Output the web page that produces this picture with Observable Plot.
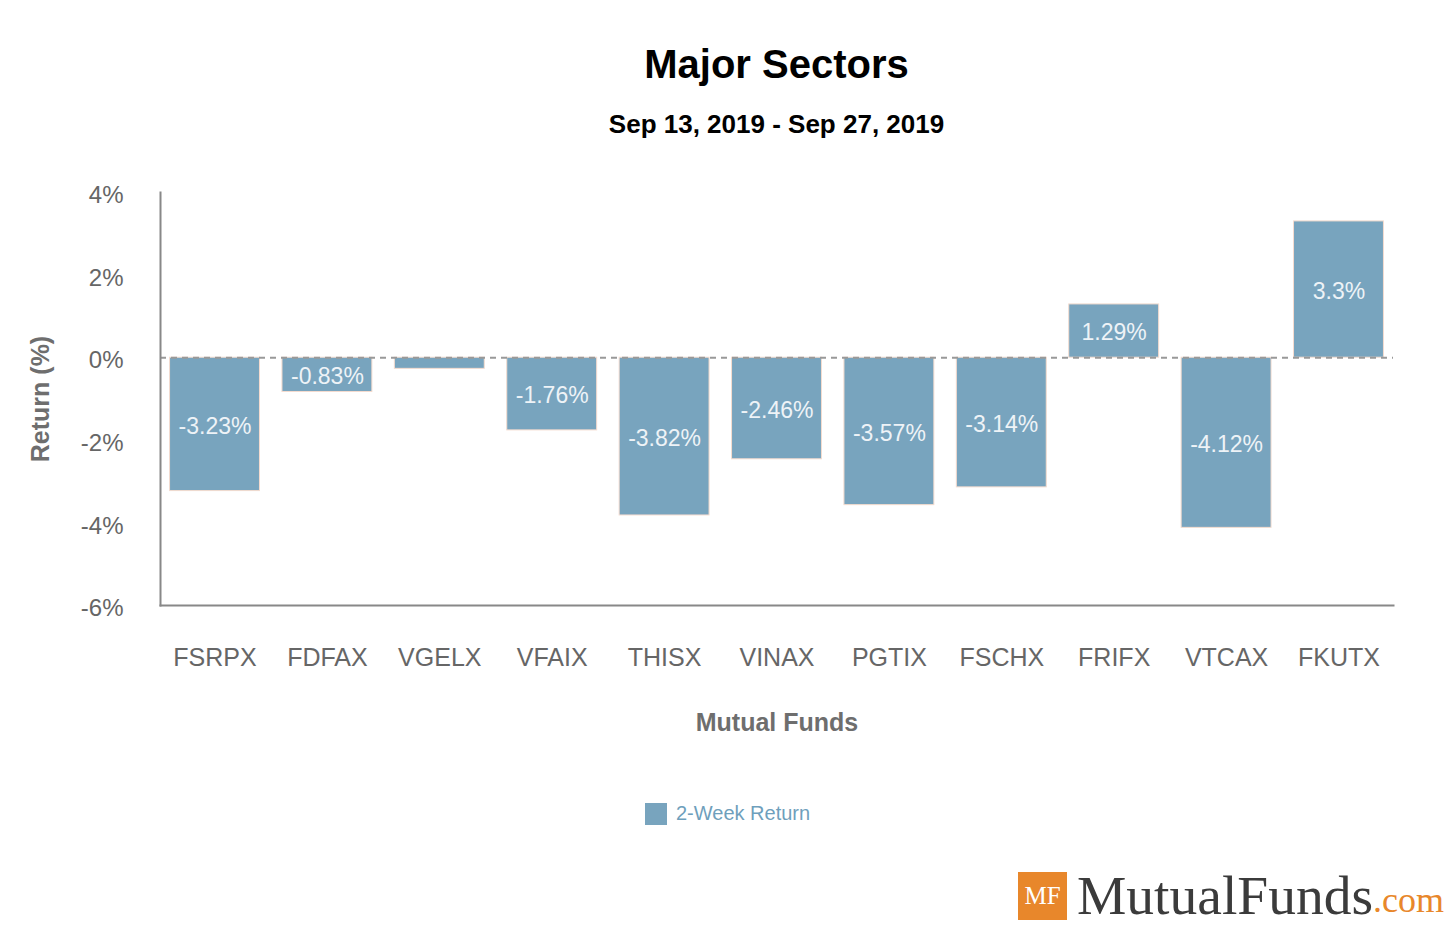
<!DOCTYPE html>
<html>
<head>
<meta charset="utf-8">
<script src="https://cdn.jsdelivr.net/npm/d3@7"></script>
<script src="https://cdn.jsdelivr.net/npm/@observablehq/plot@0.6"></script>
<style>
  html, body { margin: 0; padding: 0; background: #fff; }
  #wrap { position: relative; width: 1445px; height: 925px; overflow: hidden; font-family: "Liberation Sans", Arial, sans-serif; }
  .title { position: absolute; left: 160px; width: 1233px; text-align: center; font-weight: bold; color: #000; white-space: nowrap; }
  #t1 { top: 42px; font-size: 40px; }
  #t2 { top: 109px; font-size: 26px; }
  #chart { position: absolute; left: 0; top: 160px; }
  #legend { position: absolute; left: 645px; top: 802px; display: flex; align-items: center; font-size: 20px; color: #6f9fbc; }
  #legend .sw { width: 22px; height: 22px; background: #78a4be; margin-right: 9px; }
  #logo { position: absolute; left: 1018px; top: 872px; display: flex; align-items: flex-end; font-family: "Liberation Serif", "DejaVu Serif", serif; white-space: nowrap; }
  #logo .box { width: 49px; height: 48px; background: #e8872b; color: #fff; font-size: 25px; display: flex; align-items: center; justify-content: center; margin-right: 10px; }
  #logo .name { font-size: 55.5px; color: #3b3b3b; line-height: 48px; }
  #logo .com { font-size: 36px; color: #e8872b; line-height: 40px; }
  g[aria-label="x-axis tick label"] { font-size: 25px; }
</style>
</head>
<body>
<div id="wrap">
  <div class="title" id="t1">Major Sectors</div>
  <div class="title" id="t2">Sep 13, 2019 - Sep 27, 2019</div>
  <div id="chart"></div>
  <div id="legend"><div class="sw"></div><span>2-Week Return</span></div>
  <div id="logo"><div class="box">MF</div><span class="name">MutualFunds</span><span class="com">.com</span></div>
</div>
<script>
const funds = ["FSRPX", "FDFAX", "VGELX", "VFAIX", "THISX", "VINAX", "PGTIX", "FSCHX", "FRIFX", "VTCAX", "FKUTX"];
const returns = [-3.23, -0.83, -0.27, -1.76, -3.82, -2.46, -3.57, -3.14, 1.29, -4.12, 3.3];
const yTicks = [-6, -4, -2, 0, 2, 4];
const xTitle = "Mutual Funds";
const yTitle = "Return (%)";

const data = funds.map((f, i) => ({fund: f, value: returns[i]}));

const chart = Plot.plot({
  width: 1445,
  height: 600,
  marginTop: 32,
  marginBottom: 155,
  marginLeft: 160,
  marginRight: 52,
  style: {fontFamily: "Liberation Sans, Arial, sans-serif", fontSize: "24px", color: "#666", background: "transparent"},
  x: {domain: funds, paddingInner: 0.2, paddingOuter: 0.085, round: false, label: null, tickSize: 0, tickPadding: 43},
  y: {domain: [-6, 4], ticks: yTicks, tickFormat: () => "", label: null, tickSize: 0},
  marks: [
    Plot.barY(data, {x: "fund", y: "value", fill: "#78a4be", stroke: "#f5dccf", strokeWidth: 1}),
    Plot.ruleY([0], {stroke: "#999", strokeWidth: 2, strokeDasharray: "6,5"}),
    Plot.frame({anchor: "left", stroke: "#888", strokeWidth: 2}),
    Plot.frame({anchor: "bottom", stroke: "#888", strokeWidth: 2}),
    Plot.text(yTicks, {y: d => d, text: d => d + "%", frameAnchor: "left", dx: -37, dy: 3, textAnchor: "end", fontSize: 24, fill: "#666"}),
    Plot.text(data.filter(d => Math.abs(d.value) >= 0.5), {
      x: "fund", y: d => d.value / 2, text: d => d.value + "%",
      fill: "#eef3f7", fontSize: 23, dy: 2
    }),
    Plot.text([xTitle], {text: d => d, frameAnchor: "bottom", lineAnchor: "middle", dy: 117, fontWeight: "bold", fontSize: 25, fill: "#6e6e6e"}),
    Plot.text([yTitle], {text: d => d, frameAnchor: "left", dx: -120, rotate: -90, textAnchor: "middle", fontWeight: "bold", fontSize: 25, fill: "#6e6e6e"})
  ]
});
document.getElementById("chart").appendChild(chart);
</script>
</body>
</html>
